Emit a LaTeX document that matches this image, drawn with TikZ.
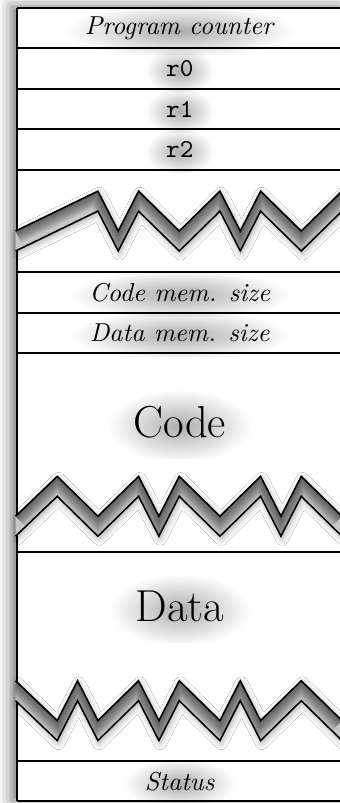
\documentclass[tikz,border=0pt]{standalone}
\usetikzlibrary{positioning, shadows.blur, fadings}

\tikzfading[name=softblob, inner color=transparent!0, outer color=transparent!100]

% top edge of a break in the memory, and the band below it
\newcommand{\zigTop}[2]{(-0.05,#1) \foreach \x/\y in {#2} {-- (\x,\y)}}
\newcommand{\zigBot}[2]{(-0.05,#1-1) \foreach \x/\y in {#2} {-- (\x,\y-1)}}
\newcommand{\zigBand}[2]{\foreach \x/\y [remember=\x as \px (initially -0.05), remember=\y as \py (initially #1)] in {#2}
  {(\px,\py) -- (\x,\y) -- (\x,\y-1) -- (\px,\py-1) -- cycle}}

\newcommand{\gapband}[4]{%
  \begin{scope}[shift={(#1)}, yshift=#2, x=7.85pt, y=7.7pt]
    \path[bandshadow] \zigBand{#3}{#4};
    \begin{scope}
      \clip \zigBand{#3}{#4};
      \fill[black!22] (-1,2) rectangle (17,-5);
      \foreach \w in {10,9,...,1}
        \draw[black, opacity=0.065, line width=\w pt] \zigTop{#3}{#4};
    \end{scope}
    \draw[semithick] \zigTop{#3}{#4};
    \draw[semithick] \zigBot{#3}{#4};
  \end{scope}}

\begin{document}
\begin{tikzpicture}[
  node distance=0pt,
  row/.style={minimum width=126pt, minimum height=15.6pt, inner sep=0pt, outer sep=0pt},
  lbl/.style={inner xsep=8pt, inner ysep=6pt,
    preaction={fill=black, fill opacity=0.32, path fading=softblob, fading transform={yshift=-2.5pt}}},
  big/.style={lbl, font=\LARGE, inner xsep=10pt, inner ysep=8pt},
  bandshadow/.style={blur shadow={shadow xshift=0.5pt, shadow yshift=-1pt, shadow blur radius=2.5pt, shadow opacity=35}},
  frame/.style={fill=white, blur shadow={shadow xshift=-2pt, shadow yshift=0.5pt, shadow blur radius=5pt, shadow opacity=55}}
]
\useasboundingbox (0,0) rectangle (130.9pt,-310pt);

% rows of the memory
\node[row, anchor=north] (pc) at (69.4pt,-3.1pt) {};
\node[row, below=of pc] (r0) {};
\node[row, below=of r0] (r1) {};
\node[row, below=of r1] (r2) {};
\node[row, below=of r2, minimum height=39.6pt] (gap) {};
\node[row, below=of gap] (cms) {};
\node[row, below=of cms] (dms) {};
\node[row, below=of dms, minimum height=76.8pt] (code) {};
\node[row, below=of code, minimum height=80.7pt] (data) {};
\node[row, below=of data] (status) {};

\fill[frame] (pc.north west) rectangle (status.south east);

% labels
\node[lbl] (pcLbl) at (pc) {\textit{Program counter}};
\node[lbl] (r0Lbl) at (r0) {\texttt{r0}};
\node[lbl] (r1Lbl) at (r1) {\texttt{r1}};
\node[lbl] (r2Lbl) at (r2) {\texttt{r2}};
\node[lbl] (cmsLbl) at (cms) {\textit{Code mem. size}};
\node[lbl] (dmsLbl) at (dms) {\textit{Data mem. size}};
\node[big, yshift=-26.8pt] (codeLbl) at (code.north) {Code};
\node[big, yshift=-21pt] (dataLbl) at (data.north) {Data};
\node[lbl] (statusLbl) at (status) {\textit{Status}};

\foreach \r in {pc,r0,r1,r2,gap,cms,dms,code,data,status}
  \draw[thick] (\r.north west) -- (\r.north east);
\draw[thick] (status.south west) -- (status.south east);
\draw[thick] (pc.north west) -- (status.south west);

% breaks
\gapband{gap.north west}{-8.3pt}{-2}{4/0, 5/-2, 6/0, 8/-2, 10/0, 11/-2, 12/0, 14/-2, 16/0}
\gapband{code.north west}{-47.6pt}{-2}{2/0, 4/-2, 6/0, 7/-2, 8/0, 10/-2, 12/0, 13/-2, 14/0, 16/-2}
\gapband{data.north west}{-49.7pt}{0}{2/-2, 3/0, 4/-2, 6/0, 7/-2, 8/0, 10/-2, 11/0, 12/-2, 14/0, 16/-2}
\end{tikzpicture}
\end{document}
